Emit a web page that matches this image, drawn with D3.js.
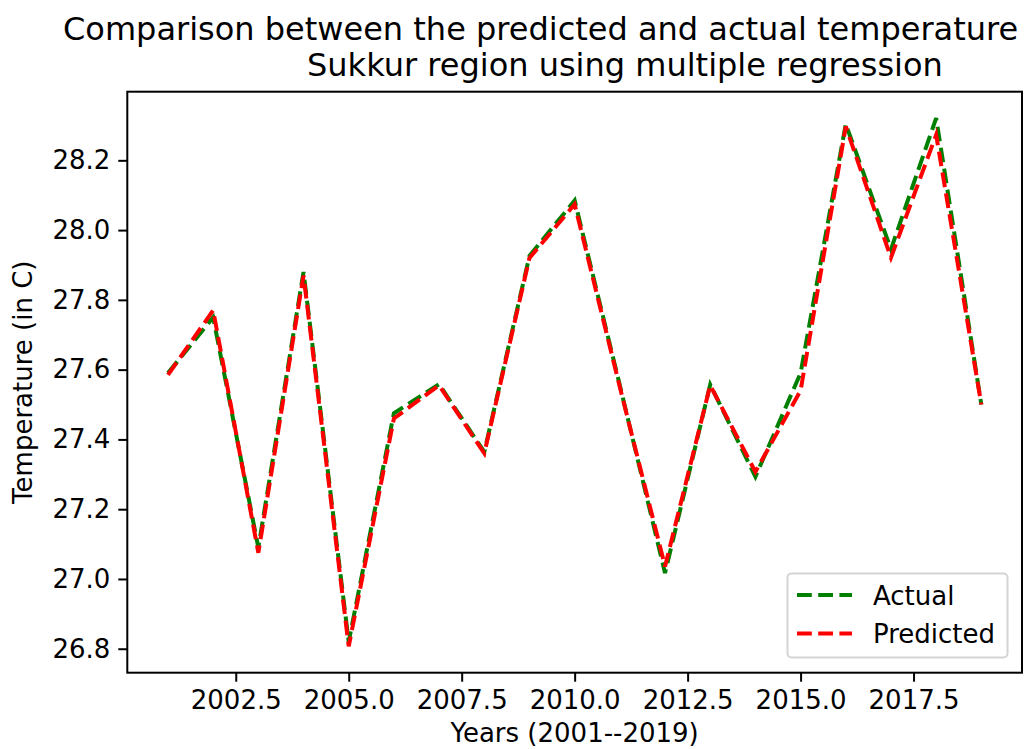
<!DOCTYPE html>
<html>
<head>
<meta charset="utf-8">
<script src="https://unpkg.com/d3@7/dist/d3.min.js"></script>
<style>
  body { margin: 0; background: #fff; }
  svg { display: block; font-family: "DejaVu Sans", sans-serif; }
</style>
</head>
<body>
<script>
// data
const years = [2001, 2002, 2003, 2004, 2005, 2006, 2007, 2008, 2009, 2010,
  2011, 2012, 2013, 2014, 2015, 2016, 2017, 2018, 2019];
const actual = [27.59, 27.75, 27.09, 27.88, 26.82, 27.475, 27.558, 27.364, 27.926, 28.085,
  27.555, 27.017, 27.557, 27.293, 27.59, 28.304, 27.945, 28.321, 27.50];
const predicted = [27.585, 27.77, 27.075, 27.87, 26.807, 27.46, 27.555, 27.36, 27.92, 28.074,
  27.55, 27.036, 27.555, 27.307, 27.54, 28.297, 27.921, 28.273, 27.50];
const xTicks = [2002.5, 2005.0, 2007.5, 2010.0, 2012.5, 2015.0, 2017.5];
const yTicks = [26.8, 27.0, 27.2, 27.4, 27.6, 27.8, 28.0, 28.2];
const seriesNames = ["Actual", "Predicted"];
const seriesColors = ["green", "red"];

const w = 1025, h = 749;
const mLeft = 127.3, mRight = 1022, mTop = 91.7, mBottom = 672.7;

const svg = d3.select("body").append("svg").attr("width", w).attr("height", h);

// matplotlib style 5% margins
const xMin = d3.min(years), xMax = d3.max(years);
const xPad = (xMax - xMin) * 0.05;
const allY = actual.concat(predicted);
const yMin = d3.min(allY), yMax = d3.max(allY);
const yPad = (yMax - yMin) * 0.05;

const x = d3.scaleLinear().domain([xMin - xPad, xMax + xPad]).range([mLeft, mRight]);
const y = d3.scaleLinear().domain([yMin - yPad, yMax + yPad]).range([mBottom, mTop]);

// axes
const xAxis = d3.axisBottom(x).tickValues(xTicks).tickFormat(d3.format(".1f"))
  .tickSize(9).tickPadding(7);
const yAxis = d3.axisLeft(y).tickValues(yTicks).tickFormat(d3.format(".1f"))
  .tickSize(9).tickPadding(8);

const gx = svg.append("g").attr("transform", `translate(0,${mBottom})`).call(xAxis);
const gy = svg.append("g").attr("transform", `translate(${mLeft},0)`).call(yAxis);
[gx, gy].forEach((g) => {
  g.select(".domain").remove();
  g.selectAll(".tick line").attr("stroke", "#000").attr("stroke-width", 2);
  g.selectAll(".tick text").attr("fill", "#000").style("font-size", "26px")
    .style("font-family", "DejaVu Sans");
});
gx.selectAll(".tick text").attr("dy", "0.8em");

// lines
const line = (vals) => d3.line().x((d, i) => x(years[i])).y((d) => y(d))(vals);
[actual, predicted].forEach((vals, k) => {
  svg.append("path")
    .attr("d", line(vals))
    .attr("fill", "none")
    .attr("stroke", seriesColors[k])
    .attr("stroke-width", 4)
    .attr("stroke-dasharray", "14.8,6.4");
});

// frame
svg.append("rect")
  .attr("x", mLeft).attr("y", mTop)
  .attr("width", mRight - mLeft).attr("height", mBottom - mTop)
  .attr("fill", "none").attr("stroke", "#000").attr("stroke-width", 2);

// title
svg.append("text").attr("x", 63).attr("y", 40)
  .style("font-size", "32px").text("Comparison between the predicted and actual temperature");
svg.append("text").attr("x", 307).attr("y", 76)
  .style("font-size", "32px").text("Sukkur region using multiple regression");

// axis labels
svg.append("text")
  .attr("x", (mLeft + mRight) / 2).attr("y", 742)
  .attr("text-anchor", "middle").style("font-size", "26px")
  .text("Years (2001--2019)");
svg.append("text")
  .attr("transform", `translate(32,${(mTop + mBottom) / 2}) rotate(-90)`)
  .attr("text-anchor", "middle").style("font-size", "26px")
  .text("Temperature (in C)");

// legend
const lg = svg.append("g");
lg.append("rect")
  .attr("x", 787.5).attr("y", 573.5).attr("width", 220).attr("height", 84)
  .attr("rx", 4).attr("fill", "#fff").attr("fill-opacity", 0.8)
  .attr("stroke", "#d4d4d4").attr("stroke-width", 2);
seriesNames.forEach((name, i) => {
  const yy = 595 + i * 38.5;
  lg.append("line")
    .attr("x1", 797).attr("x2", 852).attr("y1", yy).attr("y2", yy)
    .attr("stroke", seriesColors[i]).attr("stroke-width", 4)
    .attr("stroke-dasharray", "14.8,6.4");
  lg.append("text").attr("x", 873).attr("y", yy + 9.5)
    .style("font-size", "26px").text(name);
});
</script>
</body>
</html>
